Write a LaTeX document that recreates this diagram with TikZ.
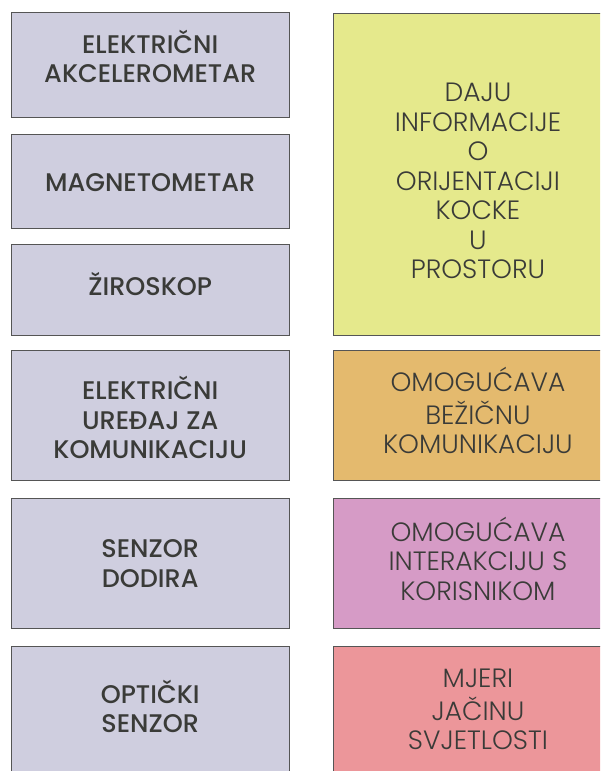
\documentclass[tikz,border=0pt]{standalone}
\usepackage{fontspec}
\setmainfont{Poppins}
\IfFontExistsTF{Poppins Medium}{\newfontfamily\partfont{Poppins Medium}}{\newfontfamily\partfont{Poppins}[FakeBold=0.7]}
\IfFontExistsTF{Poppins Light}{\newfontfamily\rolefont{Poppins Light}}{\newfontfamily\rolefont{Poppins}}
\usepackage{tikz}
\usetikzlibrary{positioning}
\usepackage{xcolor}

\definecolor{boxgrey}{HTML}{CFCEDF}
\definecolor{infoyellow}{HTML}{E5E98C}
\definecolor{infoorange}{HTML}{E4BA6E}
\definecolor{infopink}{HTML}{D69BC6}
\definecolor{infored}{HTML}{EC969A}
\definecolor{txtgrey}{HTML}{3A3B38}
\definecolor{edgegrey}{HTML}{555555}

% move the text of a box up or down without changing the box
\newcommand{\nudge}[2]{\raisebox{#1}[\height][\depth]{\begin{tabular}{@{}c@{}}#2\end{tabular}}}

\begin{document}
\begin{tikzpicture}[
        x=1pt, y=-1pt,
        part/.style={draw=edgegrey, line width=0.9pt, rectangle, anchor=north west, minimum width=278.5pt, inner sep=0pt, align=center, fill=boxgrey, text=txtgrey, font=\partfont\fontsize{25.5}{29.5}\selectfont},
        role/.style={draw=edgegrey, line width=0.9pt, rectangle, anchor=north west, minimum width=290pt, inner sep=0pt, align=center, text=txtgrey, font=\rolefont\fontsize{26.5}{29.5}\selectfont}
    ]
        \useasboundingbox (0,0) rectangle (600,771);
        \clip (0,0) rectangle (600,771);

        % Sensors
        \node (acc) [part, minimum height=105pt] at (10.5,12) {\nudge{4pt}{ELEKTRIČNI\\AKCELEROMETAR}};
        \node (mag) [part, minimum height=94pt] at (10.5,134) {\nudge{-4pt}{MAGNETOMETAR}};
        \node (gyro) [part, minimum height=90.5pt] at (10.5,244) {\nudge{1.5pt}{ŽIROSKOP}};
        \node (radio) [part, minimum height=130pt] at (10.5,349.5) {\nudge{-7pt}{ELEKTRIČNI\\UREĐAJ ZA\\KOMUNIKACIJU}};
        \node (touch) [part, minimum height=130pt] at (10.5,498) {SENZOR\\DODIRA};
        \node (optic) [part, minimum height=130pt] at (10.5,646) {\nudge{0.5pt}{OPTIČKI\\SENZOR}};

        % Roles
        \node (orient) [role, fill=infoyellow, minimum height=321.5pt] at (332.5,13) {\nudge{-10pt}{DAJU\\INFORMACIJE\\O\\ORIJENTACIJI\\KOCKE\\U\\PROSTORU}};
        \node (wireless) [role, fill=infoorange, minimum height=130pt] at (332.5,349.5) {\nudge{0pt}{OMOGUĆAVA\\BEŽIČNU\\KOMUNIKACIJU}};
        \node (user) [role, fill=infopink, minimum height=130pt] at (332.5,498) {\nudge{0.5pt}{OMOGUĆAVA\\INTERAKCIJU S\\KORISNIKOM}};
        \node (light) [role, fill=infored, minimum height=130pt] at (332.5,646) {\nudge{-1.5pt}{MJERI\\JAČINU\\SVJETLOSTI}};

    \end{tikzpicture}
\end{document}
